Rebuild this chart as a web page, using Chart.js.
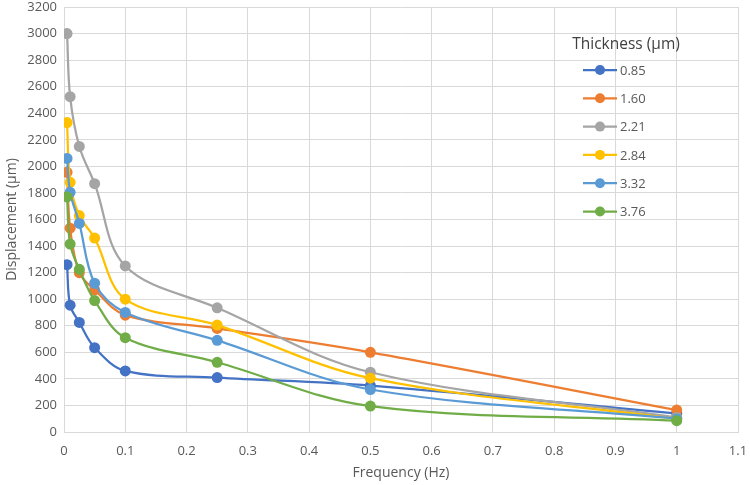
<!DOCTYPE html>
<html>
<head>
<meta charset="utf-8">
<script src="https://cdn.jsdelivr.net/npm/chart.js@4.4.1/dist/chart.umd.min.js"></script>
<style>
  html, body { margin: 0; padding: 0; background: #fff; }
  #wrap { width: 750px; height: 485px; }
</style>
</head>
<body>
<div id="wrap"><canvas id="chart"></canvas></div>
<script>
const frequencies = [0.005, 0.01, 0.025, 0.05, 0.1, 0.25, 0.5, 1];
const thicknessLabels = ['0.85', '1.60', '2.21', '2.84', '3.32', '3.76'];
const t085 = [1260, 955, 825, 635, 460, 410, 350, 140];
const t160 = [1955, 1535, 1200, 1070, 880, 780, 600, 165];
const t221 = [3000, 2525, 2150, 1870, 1250, 935, 450, 110];
const t284 = [2330, 1880, 1630, 1460, 1000, 805, 405, 100];
const t332 = [2060, 1805, 1570, 1120, 900, 690, 320, 100];
const t376 = [1770, 1415, 1225, 990, 710, 525, 195, 85];
const xTicks = [0, 0.1, 0.2, 0.3, 0.4, 0.5, 0.6, 0.7, 0.8, 0.9, 1, 1.1];

const seriesValues = [t085, t160, t221, t284, t332, t376];
const colors = ['#4472C4', '#ED7D31', '#A5A5A5', '#FFC000', '#5B9BD5', '#70AD47'];
const FONT = '"Open Sans", "Liberation Sans", sans-serif';

// legend drawn over the plot area, like the Excel original
const legendPlugin = {
  id: 'overlayLegend',
  afterDraw(chart) {
    const ctx = chart.ctx;
    ctx.save();
    ctx.fillStyle = '#404040';
    ctx.font = '15.5px ' + FONT;
    ctx.textAlign = 'center';
    ctx.textBaseline = 'middle';
    ctx.fillText('Thickness (\u03bcm)', 626, 45);
    ctx.font = '13px ' + FONT;
    ctx.textAlign = 'left';
    chart.data.datasets.forEach((ds, i) => {
      const y = 70 + i * 28.3;
      ctx.strokeStyle = ds.borderColor;
      ctx.lineWidth = 2.25;
      ctx.beginPath();
      ctx.moveTo(583, y);
      ctx.lineTo(617, y);
      ctx.stroke();
      ctx.fillStyle = ds.backgroundColor;
      ctx.beginPath();
      ctx.arc(600, y, 5, 0, Math.PI * 2);
      ctx.fill();
      ctx.fillStyle = '#595959';
      ctx.fillText(ds.label, 620, y + 1);
    });
    ctx.restore();
  },
};

const datasets = thicknessLabels.map((label, i) => ({
  label,
  data: frequencies.map((f, j) => ({ x: f, y: seriesValues[i][j] })),
  borderColor: colors[i],
  backgroundColor: colors[i],
  borderWidth: 2.25,
  pointRadius: 5.5,
  pointBorderWidth: 0,
  pointHoverRadius: 5.5,
  tension: 0.35,
  order: thicknessLabels.length - i,
}));

new Chart(document.getElementById('chart'), {
  type: 'line',
  data: { datasets },
  plugins: [legendPlugin],
  options: {
    responsive: true,
    maintainAspectRatio: false,
    animation: false,
    layout: { autoPadding: false, padding: { left: 0, right: 12, top: 7, bottom: 0 } },
    plugins: {
      legend: { display: false },
      tooltip: { enabled: false },
    },
    scales: {
      x: {
        type: 'linear',
        min: 0,
        max: 1.1,
        afterBuildTicks: (scale) => {
          scale.ticks = xTicks.map((v) => ({ value: v }));
        },
        afterFit: (scale) => {
          scale.height = 53;
          scale.paddingLeft = 0;
          scale.paddingRight = 0;
        },
        ticks: {
          color: '#595959',
          font: { family: FONT, size: 13 },
          padding: 11,
          maxRotation: 0,
          callback: (v) => String(Number(v.toFixed(1))),
        },
        grid: { color: '#D9D9D9', drawTicks: false },
        border: { color: '#D9D9D9' },
        title: {
          display: true,
          text: 'Frequency (Hz)',
          color: '#595959',
          font: { family: FONT, size: 14 },
          padding: { top: 2 },
        },
      },
      y: {
        min: 0,
        max: 3200,
        ticks: {
          stepSize: 200,
          color: '#595959',
          font: { family: FONT, size: 13 },
          padding: 7,
          callback: (v) => String(v),
        },
        afterFit: (scale) => {
          scale.width = 64;
          scale.paddingTop = 0;
          scale.paddingBottom = 0;
        },
        grid: { color: '#D9D9D9', drawTicks: false },
        border: { color: '#D9D9D9' },
        title: {
          display: true,
          text: 'Displacement (\u03bcm)',
          color: '#595959',
          font: { family: FONT, size: 14 },
          padding: { bottom: 0 },
        },
      },
    },
  },
});
</script>
</body>
</html>
